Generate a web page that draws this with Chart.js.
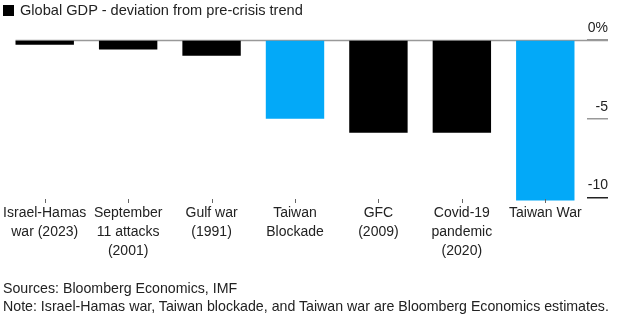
<!DOCTYPE html>
<html>
<head>
<meta charset="utf-8">
<script src="https://cdn.jsdelivr.net/npm/chart.js@4/dist/chart.umd.min.js"></script>
<style>
  body { margin: 0; background: #fff; }
  #wrap { position: relative; width: 624px; height: 323px; font-family: "Liberation Sans", Arial, sans-serif; color: #222; }
  #chart { position: absolute; left: 0; top: 0; }
  #title { position: absolute; left: 3px; top: 1px; font-size: 14.6px; line-height: 18px; white-space: nowrap; }
  #title span.box { display: inline-block; width: 11px; height: 11px; background: #000; margin-right: 6px; vertical-align: -1px; }
  #foot { position: absolute; left: 3px; top: 279px; font-size: 14.2px; line-height: 18px; white-space: nowrap; }
</style>
</head>
<body>
<div id="wrap">
  <canvas id="chart" width="624" height="323"></canvas>
  <div id="title"><span class="box"></span>Global GDP - deviation from pre-crisis trend</div>
  <div id="foot">Sources: Bloomberg Economics, IMF<br>Note: Israel-Hamas war, Taiwan blockade, and Taiwan war are Bloomberg Economics estimates.</div>
</div>
<script>
// Crisis events (x axis)
const categories = [
  ["Israel-Hamas", "war (2023)"],
  ["September", "11 attacks", "(2001)"],
  ["Gulf war", "(1991)"],
  ["Taiwan", "Blockade"],
  ["GFC", "(2009)"],
  ["Covid-19", "pandemic", "(2020)"],
  ["Taiwan War"]
];

// Deviation of global GDP from pre-crisis trend, %
const gdpDeviation = [-0.3, -0.6, -1.0, -5.0, -5.9, -5.9, -10.2];

// Taiwan scenarios are drawn in blue
const isTaiwanScenario = [false, false, false, true, false, false, true];

// Right axis ticks
const yTicks = [-10, -5, 0];
const yTickLabels = ["-10", "-5", "0%"];

const FONT = '"Liberation Sans", Arial, sans-serif';

// zero line, small category ticks and the right hand tick labels
const axisExtras = {
  id: "axisExtras",
  beforeDatasetsDraw(chart) {
    const ctx = chart.ctx;
    const y = chart.scales.y;
    const meta = chart.getDatasetMeta(0);
    const first = meta.data[0];
    const y0 = Math.round(y.getPixelForValue(0)) + 0.5;
    ctx.save();
    ctx.strokeStyle = "#999";
    ctx.lineWidth = 1.5;
    ctx.beginPath();
    ctx.moveTo(first.x - first.width / 2, y0);
    ctx.lineTo(y.right, y0);
    ctx.stroke();
    ctx.restore();
  },
  afterDraw(chart) {
    const ctx = chart.ctx;
    const y = chart.scales.y;
    const x = chart.scales.x;
    ctx.save();
    ctx.strokeStyle = "#666";
    ctx.lineWidth = 1;
    categories.forEach((c, i) => {
      const px = Math.round(x.getPixelForValue(i)) + 0.5;
      ctx.beginPath();
      ctx.moveTo(px, x.top - 3);
      ctx.lineTo(px, x.top + 1);
      ctx.stroke();
    });

    ctx.font = "14px " + FONT;
    ctx.fillStyle = "#222";
    ctx.textAlign = "right";
    ctx.textBaseline = "middle";
    yTicks.forEach((v, i) => {
      ctx.fillText(yTickLabels[i], y.right, y.getPixelForValue(v) - 12);
    });
    ctx.restore();
  }
};

const ctx = document.getElementById("chart");
const chart = new Chart(ctx, {
  type: "bar",
  data: {
    labels: categories,
    datasets: [{
      data: gdpDeviation,
      backgroundColor: isTaiwanScenario.map(t => t ? "#03A9F8" : "#000000"),
      barPercentage: 0.7,
      categoryPercentage: 1.0
    }]
  },
  options: {
    responsive: false,
    animation: false,
    layout: { padding: { top: 40, bottom: 45, left: 3, right: 16 } },
    plugins: {
      legend: { display: false },
      tooltip: { enabled: false }
    },
    scales: {
      x: {
        grid: { display: false, drawTicks: false },
        border: { display: false },
        ticks: {
          color: "#222",
          font: { family: FONT, size: 14, lineHeight: 1.36 },
          padding: 2,
          maxRotation: 0,
          autoSkip: false
        },
        afterFit(scale) { scale.height = 76; }
      },
      y: {
        position: "right",
        min: -10.3,
        max: 0,
        afterBuildTicks(scale) { scale.ticks = yTicks.map(v => ({ value: v })); },
        grid: {
          drawOnChartArea: false,
          drawTicks: true,
          tickLength: 21,
          color: ctx => ctx.tick && ctx.tick.value === -10 ? "#222" : "#999",
          lineWidth: 1.5
        },
        border: { display: false },
        ticks: { display: false },
        afterFit(scale) { scale.width = 21; }
      }
    }
  },
  plugins: [axisExtras]
});
</script>
</body>
</html>
